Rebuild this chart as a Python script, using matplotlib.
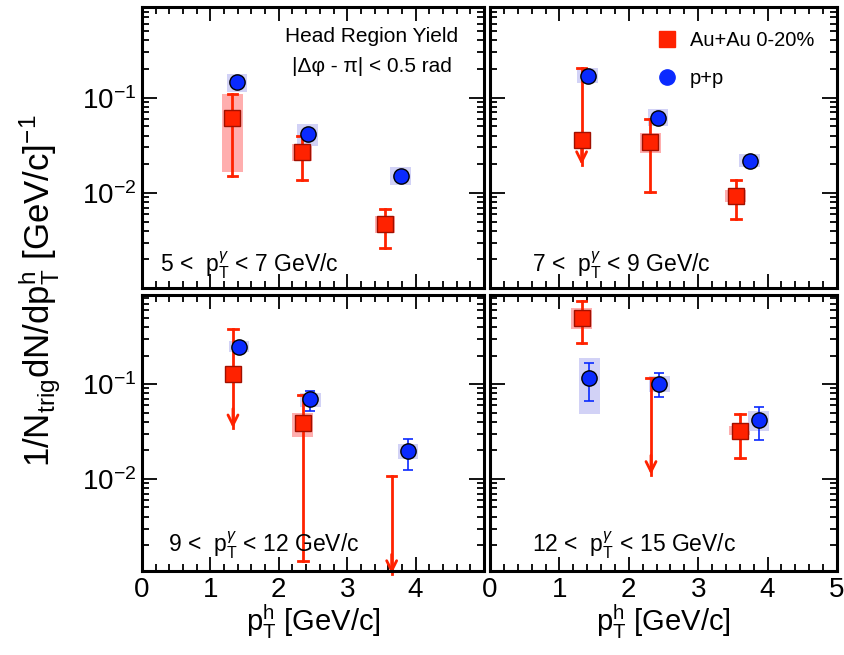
import numpy as np
import matplotlib
matplotlib.use("Agg")
import matplotlib.pyplot as plt
from matplotlib.patches import Rectangle
from matplotlib.lines import Line2D
from matplotlib.ticker import FixedLocator, FuncFormatter, MultipleLocator, LogLocator, NullFormatter

plt.rcParams['font.family'] = ['Liberation Sans', 'DejaVu Sans']
plt.rcParams['mathtext.fontset'] = 'custom'
plt.rcParams['mathtext.rm'] = 'Liberation Sans'
plt.rcParams['mathtext.it'] = 'Liberation Sans:italic'
plt.rcParams['mathtext.bf'] = 'Liberation Sans:bold'

# trigger photon pT bins
bin_labels = [r"5 <  p$_{\rm T}^{\gamma}$ < 7 GeV/c",
              r"7 <  p$_{\rm T}^{\gamma}$ < 9 GeV/c",
              r"9 <  p$_{\rm T}^{\gamma}$ < 12 GeV/c",
              r"12 <  p$_{\rm T}^{\gamma}$ < 15 GeV/c"]

# Au+Au 0-20%
aa_pt = [[1.32, 2.34, 3.55], [1.32, 2.31, 3.54], [1.33, 2.35, 3.65], [1.32, 2.32, 3.60]]
aa_y = [[0.061, 0.0266, 0.00468], [0.0361, 0.0339, 0.0093],
        [0.128, 0.0389, np.nan], [0.503, np.nan, 0.0317]]
aa_hi = [[0.109, 0.040, 0.0068], [0.208, 0.0597, 0.0137],
         [0.379, 0.077, 0.0108], [0.76, 0.116, 0.0483]]
aa_lo = [[0.0152, 0.0137, 0.00262], [0.0197, 0.0103, 0.00528],
         [0.0344, 0.00136, 0.00100], [0.27, 0.0111, 0.0166]]
aa_limit = [[False, False, False], [True, False, False],
            [True, False, True], [False, True, False]]
aa_sys_lo = [[0.0164, 0.0215, 0.0038], [np.nan, 0.0263, 0.0081],
             [np.nan, 0.028, np.nan], [0.379, np.nan, 0.0292]]
aa_sys_hi = [[0.109, 0.033, 0.0057], [np.nan, 0.0425, 0.0108],
             [np.nan, 0.0495, np.nan], [0.64, np.nan, 0.0358]]

# p+p
pp_pt = [[1.39, 2.42, 3.78], [1.41, 2.42, 3.74], [1.42, 2.46, 3.89], [1.43, 2.44, 3.87]]
pp_y = [[0.145, 0.0418, 0.0149], [0.17, 0.062, 0.0219],
        [0.249, 0.0695, 0.0196], [0.117, 0.101, 0.042]]
pp_hi = [[np.nan, np.nan, np.nan], [np.nan, np.nan, np.nan],
         [np.nan, 0.085, 0.0266], [0.166, 0.131, 0.058]]
pp_lo = [[np.nan, np.nan, np.nan], [np.nan, np.nan, np.nan],
         [np.nan, 0.0523, 0.0123], [0.0667, 0.0723, 0.026]]
pp_sys_lo = [[0.116, 0.0313, 0.012], [0.143, 0.0507, 0.0187],
             [0.220, 0.058, 0.0164], [0.0483, 0.0824, 0.0317]]
pp_sys_hi = [[0.179, 0.0532, 0.0187], [0.206, 0.0753, 0.0258],
             [0.285, 0.080, 0.0233], [0.188, 0.123, 0.0524]]

AA_RED = '#ff2200'
AA_EDGE = '#a01000'
AA_BOX = '#ffa0a0'
PP_BLUE = '#0a2aff'
PP_BOX = '#d2d2f6'

W, H = 844, 655
fig = plt.figure(figsize=(W / 100, H / 100), dpi=100)

def frac(x0, y0, x1, y1):
    return [x0 / W, 1 - y1 / H, (x1 - x0) / W, (y1 - y0) / H]

rects = [frac(142, 7, 484, 288), frac(490, 7, 837, 288),
         frac(142, 295, 484, 571), frac(490, 295, 837, 571)]
ylims = [(1.0e-3, 0.9), (1.0e-3, 0.9), (1.07e-3, 0.87), (1.07e-3, 0.87)]
label_pos = [(0.053, 0.082), (0.12, 0.082), (0.076, 0.094), (0.12, 0.094)]

def ylab(v, pos):
    if abs(v - 0.1) < 1e-9:
        return r"10$^{-1}$"
    if abs(v - 0.01) < 1e-9:
        return r"10$^{-2}$"
    return ""

for i in range(4):
    ax = fig.add_axes(rects[i])
    ax.set_yscale('log')
    ax.set_xlim(0, 5)
    ax.set_ylim(*ylims[i])

    # systematic boxes
    for x, lo, hi in zip(aa_pt[i], aa_sys_lo[i], aa_sys_hi[i]):
        if not np.isnan(lo):
            ax.add_patch(Rectangle((x - 0.15, lo), 0.3, hi - lo, facecolor=AA_BOX,
                                   edgecolor='none', alpha=0.85, zorder=1))
    for x, lo, hi in zip(pp_pt[i], pp_sys_lo[i], pp_sys_hi[i]):
        ax.add_patch(Rectangle((x - 0.15, lo), 0.3, hi - lo, facecolor=PP_BOX,
                               edgecolor='none', zorder=1))

    # Au+Au stat errors / upper limits
    for x, y, lo, hi, lim in zip(aa_pt[i], aa_y[i], aa_lo[i], aa_hi[i], aa_limit[i]):
        ax.plot([x, x], [lo, hi], color=AA_RED, lw=2, zorder=2, clip_on=False)
        ax.plot([x - 0.07, x + 0.07], [hi, hi], color=AA_RED, lw=2, zorder=2)
        if lim:
            ax.annotate('', xy=(x, lo), xytext=(x, lo * 1.6),
                        arrowprops=dict(arrowstyle='->', color=AA_RED, lw=2,
                                        mutation_scale=18, shrinkA=0, shrinkB=0),
                        annotation_clip=False, zorder=2)
        else:
            ax.plot([x - 0.07, x + 0.07], [lo, lo], color=AA_RED, lw=2, zorder=2)
    ax.plot(aa_pt[i], aa_y[i], 's', color=AA_RED, mec=AA_EDGE, mew=1, ms=11, zorder=4)

    # p+p
    ax.errorbar(pp_pt[i], pp_y[i],
                yerr=[np.array(pp_y[i]) - np.array(pp_lo[i]),
                      np.array(pp_hi[i]) - np.array(pp_y[i])],
                fmt='none', ecolor=PP_BLUE, elinewidth=1.2, capsize=3.5, capthick=1.2, zorder=3)
    ax.plot(pp_pt[i], pp_y[i], 'o', color=PP_BLUE, mec='black', mew=1, ms=11, zorder=5)

    # axes styling
    ax.xaxis.set_major_locator(MultipleLocator(1))
    ax.xaxis.set_minor_locator(MultipleLocator(0.2))
    ax.yaxis.set_major_locator(FixedLocator([1e-3, 1e-2, 1e-1]))
    ax.yaxis.set_minor_locator(LogLocator(base=10, subs=np.arange(2, 10)))
    ax.yaxis.set_minor_formatter(NullFormatter())
    ax.tick_params(which='both', direction='in', top=True, right=True, width=1.3)
    ax.tick_params(which='major', length=10)
    ax.tick_params(axis='y', which='major', length=11)
    ax.tick_params(which='minor', length=5)
    ax.tick_params(axis='both', labelsize=20, pad=4)
    for s in ax.spines.values():
        s.set_linewidth(2.2)

    if i % 2 == 0:
        ax.yaxis.set_major_formatter(FuncFormatter(ylab))
    else:
        ax.yaxis.set_major_formatter(NullFormatter())
    if i >= 2:
        ax.set_xlabel(r"p$_{\rm T}^{\rm h}$ [GeV/c]", fontsize=21, labelpad=0)
        if i == 2:
            ax.set_xticks([0, 1, 2, 3, 4])
            ax.xaxis.set_minor_locator(MultipleLocator(0.2))
    else:
        ax.set_xticklabels([])

    ax.text(label_pos[i][0], label_pos[i][1], bin_labels[i], transform=ax.transAxes,
            fontsize=16.5, ha='left', va='center')

    if i == 0:
        ax.text(0.672, 0.894, "Head Region Yield", transform=ax.transAxes,
                fontsize=15, ha='center', va='center')
        ax.text(0.672, 0.788, "|Δφ - π| < 0.5 rad", transform=ax.transAxes,
                fontsize=15, ha='center', va='center')
    if i == 1:
        handles = [Line2D([], [], ls='none', marker='s', color=AA_RED, mec=AA_RED, ms=12),
                   Line2D([], [], ls='none', marker='o', color=PP_BLUE, mec=PP_BLUE, ms=11)]
        ax.legend(handles, ["Au+Au 0-20%", "p+p"], loc='upper left',
                  bbox_to_anchor=(0.43, 0.98), frameon=False, fontsize=14.5,
                  labelspacing=0.95, handletextpad=0.6, handlelength=1.0)

fig.text(0.047, 0.556, r"1/N$_{\rm trig}$dN/dp$_{\rm T}^{\rm h}$ [GeV/c]$^{-1}$",
         rotation=90, fontsize=25, ha='center', va='center')

fig.savefig("out.png", dpi=100)
